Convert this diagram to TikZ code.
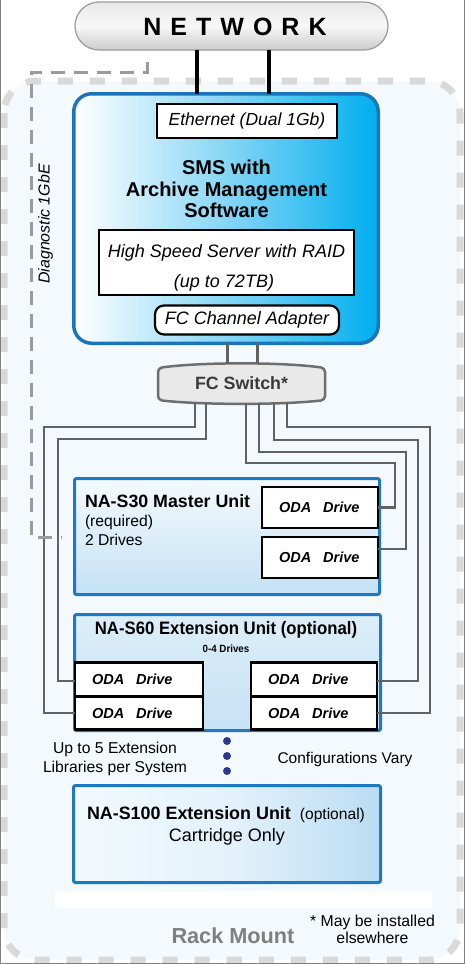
\documentclass[tikz,border=0pt]{standalone}
\usepackage{fontspec}
\setmainfont{Liberation Sans}
\newfontfamily\narrowsans[FakeStretch=0.93]{Liberation Sans}
\newcommand{\myfs}[1]{\fontsize{#1}{#1}\selectfont}
\definecolor{rackfill}{HTML}{F3F9FD}
\definecolor{rackdash}{HTML}{D9D9D9}
\definecolor{diaggray}{HTML}{9B9B9B}
\definecolor{boxblue}{HTML}{1E78C2}
\definecolor{smsblue}{HTML}{1B75BC}
\definecolor{smscyan}{HTML}{00AEEF}
\definecolor{smsmid}{HTML}{86D6F5}
\definecolor{cablegray}{HTML}{626262}
\definecolor{swgray}{HTML}{6E6E6E}
\definecolor{swfill}{HTML}{E9E9E9}
\definecolor{swtext}{HTML}{3A3A3A}
\definecolor{netborder}{HTML}{9A9A9A}
\definecolor{s30top}{HTML}{F4FAFD}
\definecolor{s30bot}{HTML}{C4E1F5}
\definecolor{s60top}{HTML}{DCEEF9}
\definecolor{s60bot}{HTML}{C6E2F5}
\definecolor{s100l}{HTML}{F2F9FD}
\definecolor{s100m}{HTML}{E4F2FB}
\definecolor{s100r}{HTML}{BBDCF3}
\definecolor{navydot}{HTML}{2B3990}
\definecolor{rackgray}{HTML}{7F7F7F}
\begin{document}
\begin{tikzpicture}[x=1pt,y=-1pt,
  every node/.style={inner sep=0pt, outer sep=0pt},
  txt/.style={inner sep=0pt, anchor=base},
  bluebox/.style={draw=boxblue, line width=3pt, rounded corners=2pt},
  whitebox/.style={draw=black, line width=2.2pt, fill=white},
  drivebox/.style={draw=black, line width=2.6pt, fill=white, align=left,
    inner xsep=17pt, inner ysep=0pt, font=\myfs{14.5}\bfseries\itshape, minimum height=#1},
  cable/.style={draw=cablegray, line width=2.4pt},
  netline/.style={draw=black, line width=3.5pt},
  swline/.style={draw=cablegray, line width=3pt},
]
\useasboundingbox (0,0) rectangle (465,964);
% rack mount area
\draw[fill=rackfill, draw=rackdash, line width=7pt, dash pattern=on 15pt off 17pt, rounded corners=32pt]
  (4,81) rectangle (460,960);
\fill[white] (55,891) rectangle (432,908);
% image frame
\draw[gray, line width=1pt] (0.5,0) -- (0.5,963.5) -- (464,963.5) -- (464,0);

% network
\node[draw=netborder, line width=1.2pt, rounded corners=24pt, top color=gray!18, bottom color=gray!40,
  middle color=gray!6, minimum width=313pt, minimum height=48pt] (net) at (231.5,26) {};
\node[txt, font=\myfs{25}\bfseries] (nettext) at (235,35) {N\kern9pt E\kern9pt T\kern9pt W\kern9pt O\kern9pt R\kern9pt K};

% SMS box
\node[draw=smsblue, line width=3.5pt, rounded corners=18pt, left color=white, right color=smscyan,
  middle color=smsmid, minimum width=304.5pt, minimum height=249.5pt] (sms) at (226,218.5) {};
\draw[netline] ([xshift=-34.5pt]net.south) -- ([xshift=-29pt]sms.north);
\draw[netline] ([xshift=37.5pt]net.south) -- ([xshift=43pt]sms.north);
\node[whitebox, minimum width=180pt, minimum height=34pt, font=\myfs{17.5}\itshape] (eth) at (247,121) {Ethernet (Dual 1Gb)};
\node[txt, font=\myfs{20}\bfseries] (smst1) at (226.5,174) {SMS with};
\node[txt, font=\myfs{20}\bfseries] (smst2) at (226.5,196) {Archive Management};
\node[txt, font=\myfs{20}\bfseries] (smst3) at (226.5,217) {Software};
\node[whitebox, minimum width=255pt, minimum height=65pt] (hss) at (226.5,262.5) {};
\node[txt, font=\myfs{18}\itshape] (hsst1) at (226.5,257) {High Speed Server with RAID};
\node[txt, font=\myfs{18}\itshape] (hsst2) at (224,287) {(up to 72TB)};
\node[whitebox, rounded corners=9pt, minimum width=184pt, minimum height=29pt, font=\myfs{18}\itshape] (fca) at (247,320) {FC Channel Adapter};

% FC switch
\draw[draw=swgray, line width=2.5pt, fill=swfill, rounded corners=4pt]
  (158,368) .. controls (200,362) and (283,362) .. (325,368) -- (325,400)
  .. controls (283,405) and (200,405) .. (158,400) -- cycle;
\node[minimum width=167pt, minimum height=39pt, font=\myfs{17.8}\bfseries, text=swtext] (fcs) at (241.5,383.5) {FC Switch*};
\draw[swline] ([xshift=1pt]sms.south) -- ([xshift=-14.5pt]fcs.north);
\draw[swline] ([xshift=31pt]sms.south) -- ([xshift=15.5pt]fcs.north);

% NA-S30
\node[bluebox, top color=s30top, bottom color=s30bot, minimum width=305pt, minimum height=116pt] (s30) at (227,536.5) {};
\node[txt, anchor=base west, font=\myfs{17.8}\bfseries] (s30t1) at (85,507) {NA-S30 Master Unit};
\node[txt, anchor=base west, font=\myfs{15.7}] (s30t2) at (85,526) {(required)};
\node[txt, anchor=base west, font=\myfs{15.7}] (s30t3) at (85,545) {2 Drives};
\node[drivebox=41pt, text width=82pt] (s30a) at (320,507.5) {ODA\hspace{12pt}Drive};
\node[drivebox=41pt, text width=82pt] (s30b) at (320,557.5) {ODA\hspace{12pt}Drive};

% NA-S60
\node[bluebox, top color=s60top, bottom color=s60bot, minimum width=306pt, minimum height=116pt] (s60) at (227.5,672.5) {};
\node[txt, font=\narrowsans\bfseries\myfs{18}] (s60t1) at (226,634) {NA-S60 Extension Unit (optional)};
\node[txt, font=\narrowsans\bfseries\myfs{10.5}] (s60t2) at (226,652) {0-4 Drives};
\node[drivebox=33.5pt, text width=94pt] (s60a) at (139,679.5) {ODA\hspace{12pt}Drive};
\node[drivebox=33.5pt, text width=94pt] (s60b) at (139,713) {ODA\hspace{12pt}Drive};
\node[drivebox=33.5pt, text width=92pt] (s60c) at (314,679.5) {ODA\hspace{12pt}Drive};
\node[drivebox=33.5pt, text width=92pt] (s60d) at (314,713) {ODA\hspace{12pt}Drive};

% cables from FC switch
\draw[cable] ([xshift=-46.5pt]fcs.south) -- ++(0,24) -- ++(-151,0) |- (s60b.west);
\draw[cable] ([xshift=-35.5pt]fcs.south) -- ++(0,36) -- ++(-148,0) |- ([yshift=-1.5pt]s60a.west);
\draw[cable] ([xshift=4.5pt]fcs.south) -- ++(0,60) -- ++(149,0) |- (s30a.east);
\draw[cable] ([xshift=17.5pt]fcs.south) -- ++(0,49) -- ++(147,0) |- ([yshift=8.5pt]s30b.east);
\draw[cable] ([xshift=32.5pt]fcs.south) -- ++(0,37) -- ++(144,0) |- ([yshift=-1.5pt]s60c.east);
\draw[cable] ([xshift=45.5pt]fcs.south) -- ++(0,24) -- ++(143,0) |- (s60d.east);

% diagnostic dashed line
\coordinate (diagstart) at (147,62);
\coordinate (diagend) at (62,537);
\draw[draw=diaggray, line width=3pt, dash pattern=on 14pt off 9pt]
  (diagstart) -- (147,72) -- (31,72) |- (diagend);
\node[rotate=90, font=\myfs{15.9}\itshape] (diag) at (45.5,224) {Diagnostic 1GbE};

% dots and notes
\node[circle, fill=navydot, minimum size=8pt] (dot1) at (227,741) {};
\node[circle, fill=navydot, minimum size=8pt] (dot2) at (227,756) {};
\node[circle, fill=navydot, minimum size=8pt] (dot3) at (227,771) {};
\node[txt, font=\myfs{15.7}] (upto1) at (115,753) {Up to 5 Extension};
\node[txt, font=\myfs{15.7}] (upto2) at (115,772) {Libraries per System};
\node[txt, font=\myfs{15.5}] (conf) at (345,763) {Configurations Vary};

% NA-S100
\node[bluebox, left color=s100l, right color=s100r, middle color=s100m, minimum width=307pt, minimum height=97pt] (s100) at (227,834) {};
\node[txt, anchor=base west, font=\myfs{17.9}] (s100t1) at (87,819) {\textbf{NA-S100 Extension Unit}\hspace{9pt}{\myfs{15.6}(optional)}};
\node[txt, font=\myfs{18}] (s100t2) at (227,841) {Cartridge Only};

% footer
\node[txt, font=\myfs{21.7}\bfseries, text=rackgray] (rack) at (233,943) {Rack Mount};
\node[txt, font=\myfs{15.8}] (note1) at (372.5,926) {* May be installed};
\node[txt, font=\myfs{15.8}] (note2) at (372.5,943) {elsewhere};
\end{tikzpicture}
\end{document}
